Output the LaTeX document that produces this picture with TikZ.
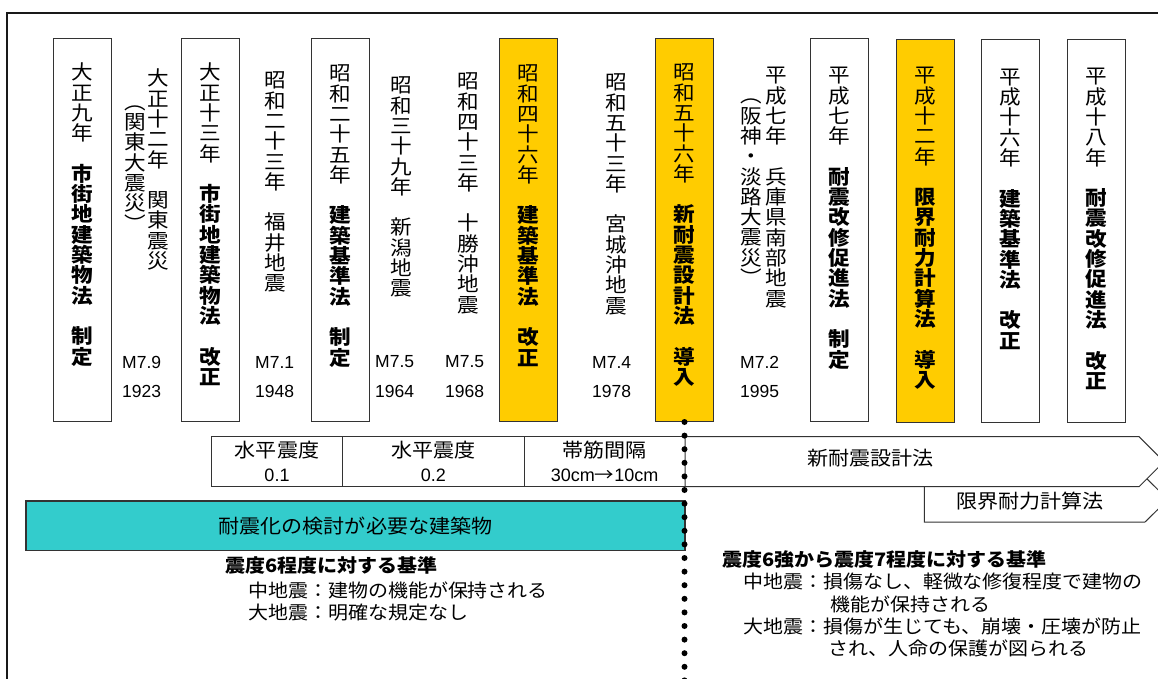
\documentclass[tikz,border=0pt]{standalone}
\usepackage{fontspec}
\setmainfont{Liberation Sans}
\newfontfamily\jp[FakeStretch=1.08]{Noto Sans CJK JP}
\newlength\vpitch
\setlength\vpitch{20.3pt}
\ExplSyntaxOn
\cs_new_protected:Npn \my_vchar:n #1
  { \hbox_to_wd:nn {1.3em} { \hss \rule[\dimexpr 0.38em-0.5\vpitch\relax]{0pt}{\vpitch} #1 \hss } }
\NewDocumentCommand\vcol{mm}
  {
    \vbox:n
      {
        \offinterlineskip
        \tl_map_inline:nn {#1} { \my_vchar:n {##1} }
        \tl_map_inline:nn {#2} { \my_vchar:n {\bfseries ##1} }
      }
  }
\ExplSyntaxOff
\definecolor{lawyellow}{HTML}{FFCC00}
\definecolor{barteal}{HTML}{33CCCC}
\tikzset{
  lawbox/.style={draw=black!80, line width=1pt, fill=white, minimum width=58pt, minimum height=383pt, inner sep=0pt},
  vt/.style={inner sep=0pt, anchor=north, font=\jp\fontsize{20}{20}\selectfont},
  mag/.style={inner sep=0pt, anchor=west, font=\fontsize{17.5}{18}\selectfont},
  cell/.style={draw=black!80, line width=1pt, minimum height=50pt, inner sep=0pt, align=center, font=\fontsize{18}{24}\selectfont},
  arrowshape/.style={draw=black!80, line width=1pt, fill=white},
  jtxt/.style={inner sep=0pt, text height=0.88em, text depth=0.12em, font=\jp\fontsize{18.5}{20}\selectfont},
  jbig/.style={jtxt, font=\jp\fontsize{19.5}{20}\selectfont},
  jbold/.style={jtxt, font=\jp\bfseries\fontsize{18.5}{20}\selectfont},
  dotline/.style={line width=6pt, line cap=round, dash pattern=on 0pt off 13.6pt},
  frameline/.style={line width=2pt, draw=black!90}
}
\begin{document}
\begin{tikzpicture}[x=1pt,y=-1pt]
\useasboundingbox (0,0) rectangle (1158,678);
\clip (0,0) rectangle (1158,678);

% law boxes
\node[lawbox] (A) at (82.5,230) {};
\node[lawbox] (B) at (210.5,230) {};
\node[lawbox] (C) at (340.5,230) {};
\node[lawbox, fill=lawyellow] (D) at (528.5,230) {};
\node[lawbox, fill=lawyellow] (E) at (684.5,230) {};
\node[lawbox] (F) at (839.7,230) {};
\node[lawbox, fill=lawyellow] (G) at (925.2,230.5) {};
\node[lawbox] (H) at (1010.5,230.5) {};
\node[lawbox] (I) at (1096.2,230.5) {};

% vertical texts in boxes
\node[vt] (At) at (82.5,61.85) {\vcol{大正九年　}{市街地建築物法　制定}};
\node[vt] (Bt) at (210.5,61.85) {\vcol{大正十三年　}{市街地建築物法　改正}};
\node[vt] (Ct) at (340.5,62.85) {\vcol{昭和二十五年　}{建築基準法　制定}};
\node[vt] (Dt) at (528.5,62.85) {\vcol{昭和四十六年　}{建築基準法　改正}};
\node[vt] (Et) at (684.5,61.85) {\vcol{昭和五十六年　}{新耐震設計法　導入}};
\node[vt] (Ft) at (839.7,64.85) {\vcol{平成七年　}{耐震改修促進法　制定}};
\node[vt] (Gt) at (925.2,64.85) {\vcol{平成十二年　}{限界耐力計算法　導入}};
\node[vt] (Ht) at (1010.5,66.35) {\vcol{平成十六年　}{建築基準法　改正}};
\node[vt] (It) at (1096.2,65.85) {\vcol{平成十八年　}{耐震改修促進法　改正}};

% earthquake columns
\node[vt] (q1) at (158,67.85) {\vcol{大正十二年　関東震災}{}};
\node[vt] (q1p) at (135,91.25) {\vcol{︵関東大震災︶}{}};
\node[vt] (q2) at (275,69.85) {\vcol{昭和二十三年　福井地震}{}};
\node[vt] (q3) at (401.7,74.85) {\vcol{昭和三十九年　新潟地震}{}};
\node[vt] (q4) at (468,70.85) {\vcol{昭和四十三年　十勝沖地震}{}};
\node[vt] (q5) at (616.7,71.85) {\vcol{昭和五十三年　宮城沖地震}{}};
\node[vt] (q6) at (776.7,64.85) {\vcol{平成七年　兵庫県南部地震}{}};
\node[vt] (q6p) at (751.7,84.85) {\vcol{︵阪神・淡路大震災︶}{}};

% magnitudes and years
\node[mag] (m1) at (122,362) {M7.9};
\node[mag] (y1) at (122,391) {1923};
\node[mag] (m2) at (255,362) {M7.1};
\node[mag] (y2) at (255,391) {1948};
\node[mag] (m3) at (375,362) {M7.5};
\node[mag] (y3) at (375,391) {1964};
\node[mag] (m4) at (445,362) {M7.5};
\node[mag] (y4) at (445,391) {1968};
\node[mag] (m5) at (592,362) {M7.4};
\node[mag] (y5) at (592,391) {1978};
\node[mag] (m6) at (740,362) {M7.2};
\node[mag] (y6) at (740,391) {1995};

% table of criteria
\node[cell, minimum width=130.6pt] (t1) at (277,461.7) {{\jp\fontsize{19.5}{24}\selectfont 水平震度}\\0.1};
\node[cell, minimum width=182pt] (t2) at (433.3,461.7) {{\jp\fontsize{19.5}{24}\selectfont 水平震度}\\0.2};
\node[cell, minimum width=160.7pt] (t3) at (604.65,461.7) {{\jp\fontsize{19.5}{24}\selectfont 帯筋間隔}\\30cm{\jp →}10cm};

% arrows
\draw[arrowshape] (924.3,477) -- (1145,477) -- (1168,499.5) -- (1145,522) -- (924.3,522) -- cycle;
\draw[arrowshape] (685,436.7) -- (1139,436.7) -- (1164,461.7) -- (1139,486.7) -- (685,486.7) -- cycle;
\node[jbig] (ar1) at (870.5,462) {新耐震設計法};
\node[jbig] (ar2) at (1030,504.5) {限界耐力計算法};

% teal bar
\node[draw=black!80, line width=1.5pt, fill=barteal, minimum width=659pt, minimum height=49.5pt, inner sep=0pt, font=\jp\fontsize{19.5}{20}\selectfont] (bar) at (355.5,525.75) {耐震化の検討が必要な建築物};

% dotted divider
\coordinate (dend) at (684.5,700);
\draw[dotline] (E.south) -- (dend);

% criteria texts
\node[jbold, anchor=west] (h1) at (225,569) {震度6程度に対する基準};
\node[jtxt, anchor=west] (l1) at (248,594) {中地震：建物の機能が保持される};
\node[jtxt, anchor=west] (l2) at (248,616) {大地震：明確な規定なし};
\node[jbold, anchor=west] (h2) at (722,563) {震度6強から震度7程度に対する基準};
\node[jtxt, anchor=west] (n1) at (743,585) {中地震：損傷なし、軽微な修復程度で建物の};
\node[jtxt, anchor=west] (n2) at (830,608) {機能が保持される};
\node[jtxt, anchor=west] (n3) at (743,630) {大地震：損傷が生じても、崩壊・圧壊が防止};
\node[jtxt, anchor=west] (n4) at (828,652) {され、人命の保護が図られる};

% outer frame
\draw[frameline] (7,700) -- (7,13) -- (1170,13);
\end{tikzpicture}
\end{document}
